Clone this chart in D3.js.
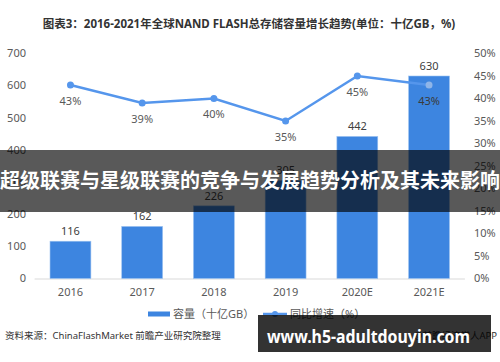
<!DOCTYPE html>
<html lang="zh">
<head>
  <meta charset="utf-8">
  <title>NAND FLASH 总存储容量增长趋势</title>
  <style>
    body { margin: 0; background: #fff; }
    svg { display: block; font-family: "Noto Sans", "Noto Sans CJK SC", sans-serif; }
    .tick-label { fill: #595959; font-size: 11px; }
    .bar-label { fill: #404040; font-size: 11px; text-anchor: middle; }
    .rate-label { fill: #595959; font-size: 11px; text-anchor: middle; }
  </style>
</head>
<body>
  <div id="chart"></div>
  <script src="https://d3js.org/d3.v7.min.js"></script>
  <script>
    // chart data
    var years = ["2016", "2017", "2018", "2019", "2020E", "2021E"];
    var capacity = [116, 162, 226, 305, 442, 630];
    var growth = [43, 39, 40, 35, 45, 43];
    var leftTicks = [0, 100, 200, 300, 400, 500, 600, 700];
    var rightTicks = [0, 5, 10, 15, 20, 25, 30, 35, 40, 45, 50];

    var width = 500, height = 362;

    var svg = d3.select("#chart")
      .append("svg")
      .attr("width", width)
      .attr("height", height);

    // title
    svg.append("text")
      .attr("x", 249)
      .attr("y", 28)
      .attr("text-anchor", "middle")
      .style("font-size", "11.5px")
      .style("font-weight", "bold")
      .style("fill", "#333")
      .text("图表3：2016-2021年全球NAND FLASH总存储容量增长趋势(单位：十亿GB，%)");

    // scales
    var xScale = d3.scaleBand()
      .domain(years)
      .range([34.6, 464.9])
      .paddingInner(0.43)
      .paddingOuter(0.215);

    var yLeft = d3.scaleLinear().domain([0, 700]).range([278.5, 53.5]);
    var yRight = d3.scaleLinear().domain([0, 50]).range([278.5, 53.5]);

    // left axis labels
    svg.selectAll(".left-tick")
      .data(leftTicks)
      .enter()
      .append("text")
      .attr("class", "tick-label")
      .attr("x", 26)
      .attr("y", function(d) { return yLeft(d); })
      .attr("dy", "0.35em")
      .attr("text-anchor", "end")
      .text(function(d) { return d; });

    // right axis labels
    svg.selectAll(".right-tick")
      .data(rightTicks)
      .enter()
      .append("text")
      .attr("class", "tick-label")
      .attr("x", 474)
      .attr("y", function(d) { return yRight(d); })
      .attr("dy", "0.35em")
      .attr("text-anchor", "start")
      .text(function(d) { return d + "%"; });

    // baseline
    svg.append("line")
      .attr("x1", 34.6)
      .attr("x2", 464.9)
      .attr("y1", yLeft(0) + 0.5)
      .attr("y2", yLeft(0) + 0.5)
      .attr("stroke", "#d9d9d9")
      .attr("stroke-width", 1);

    // bars
    svg.selectAll(".bar")
      .data(years)
      .enter()
      .append("rect")
      .attr("class", "bar")
      .attr("x", function(d) { return xScale(d); })
      .attr("y", function(d, i) { return yLeft(capacity[i]); })
      .attr("width", xScale.bandwidth())
      .attr("height", function(d, i) { return yLeft(0) - yLeft(capacity[i]); })
      .attr("fill", "#3d85e0")
      .attr("stroke", "#9cc2f0")
      .attr("stroke-width", 0.6);

    svg.selectAll(".bar-label")
      .data(years)
      .enter()
      .append("text")
      .attr("class", "bar-label")
      .attr("x", function(d) { return xScale(d) + xScale.bandwidth() / 2; })
      .attr("y", function(d, i) { return yLeft(capacity[i]) - 10; })
      .attr("dy", "0.35em")
      .text(function(d, i) { return capacity[i]; });

    // growth line
    var line = d3.line()
      .x(function(d, i) { return xScale(years[i]) + xScale.bandwidth() / 2; })
      .y(function(d) { return yRight(d); });

    svg.append("path")
      .datum(growth)
      .attr("d", line)
      .attr("fill", "none")
      .attr("stroke", "#5596ec")
      .attr("stroke-width", 2.5);

    svg.selectAll(".rate-dot")
      .data(growth)
      .enter()
      .append("circle")
      .attr("cx", function(d, i) { return xScale(years[i]) + xScale.bandwidth() / 2; })
      .attr("cy", function(d) { return yRight(d); })
      .attr("r", 3.5)
      .attr("fill", function(d, i) { return i == growth.length - 1 ? "#8fb5e8" : "#5596ec"; });

    svg.selectAll(".rate-label")
      .data(growth)
      .enter()
      .append("text")
      .attr("class", "rate-label")
      .attr("x", function(d, i) { return xScale(years[i]) + xScale.bandwidth() / 2; })
      .attr("y", function(d) { return yRight(d) + 16; })
      .attr("dy", "0.35em")
      .style("fill", function(d, i) { return i == growth.length - 1 ? "#3a3a3a" : "#595959"; })
      .text(function(d) { return d + "%"; });

    // x labels
    svg.selectAll(".x-label")
      .data(years)
      .enter()
      .append("text")
      .attr("class", "tick-label")
      .attr("x", function(d) { return xScale(d) + xScale.bandwidth() / 2; })
      .attr("y", 292)
      .attr("dy", "0.35em")
      .attr("text-anchor", "middle")
      .text(function(d) { return d; });

    // legend
    var legend = svg.append("g").attr("transform", "translate(0,314)");
    legend.append("rect")
      .attr("x", 148).attr("y", -2.5)
      .attr("width", 22).attr("height", 5)
      .attr("fill", "#3d85e0");
    legend.append("text")
      .attr("class", "tick-label")
      .attr("x", 173).attr("dy", "0.35em")
      .text("容量（十亿GB）");
    legend.append("line")
      .attr("x1", 263).attr("x2", 287)
      .attr("stroke", "#5596ec").attr("stroke-width", 2.5);
    legend.append("circle")
      .attr("cx", 275).attr("r", 3)
      .attr("fill", "#5596ec");
    legend.append("text")
      .attr("class", "tick-label")
      .attr("x", 290).attr("dy", "0.35em")
      .text("同比增速（%）");

    // source
    svg.append("text")
      .attr("x", 5).attr("y", 336)
      .attr("dy", "0.35em")
      .style("font-size", "9.5px")
      .style("fill", "#333")
      .text("资料来源：ChinaFlashMarket 前瞻产业研究院整理");
    svg.append("text")
      .attr("x", 497).attr("y", 336)
      .attr("dy", "0.35em")
      .attr("text-anchor", "end")
      .style("font-size", "9.5px")
      .style("fill", "#333")
      .text("@前瞻经济学人APP");

    // overlay band
    svg.append("rect")
      .attr("x", 0).attr("y", 150)
      .attr("width", 500).attr("height", 62)
      .attr("fill", "rgba(0,0,0,0.65)");
    svg.append("text")
      .attr("x", 250).attr("y", 181)
      .attr("dy", "0.35em")
      .attr("text-anchor", "middle")
      .style("font-size", "20px")
      .style("font-weight", "bold")
      .style("fill", "#fff")
      .text("超级联赛与星级联赛的竞争与发展趋势分析及其未来影响");

    // url box
    svg.append("rect")
      .attr("x", 258).attr("y", 315)
      .attr("width", 233).attr("height", 37)
      .attr("fill", "rgba(0,0,0,0.8)");
    svg.append("text")
      .attr("x", 267).attr("y", 337)
      .attr("dy", "0.35em")
      .attr("textLength", 203)
      .attr("lengthAdjust", "spacingAndGlyphs")
      .style("font-size", "18px")
      .style("font-weight", "bold")
      .style("fill", "#fff")
      .text("www.h5-adultdouyin.com");
  </script>
</body>
</html>
